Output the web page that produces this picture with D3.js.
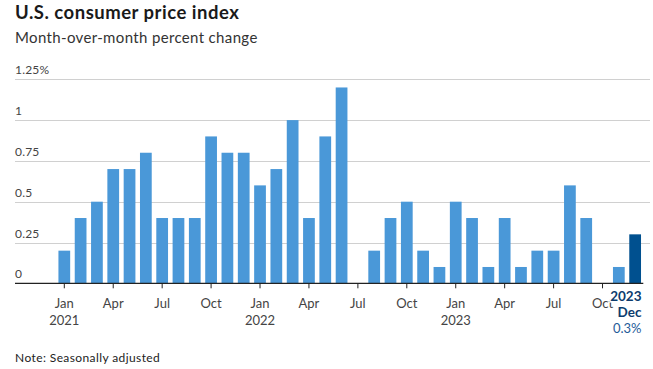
<!DOCTYPE html>
<html>
<head>
<meta charset="utf-8">
<script src="https://cdn.jsdelivr.net/npm/d3@7/dist/d3.min.js"></script>
<style>
  html, body { margin: 0; padding: 0; background: #fff; }
  svg { display: block; font-family: Lato, "Open Sans", sans-serif; }
</style>
</head>
<body>
<svg id="chart" width="653" height="369"></svg>
<script>
const title = "U.S. consumer price index";
const subtitle = "Month-over-month percent change";
const note = "Note: Seasonally adjusted";

const months = [
  "2021-01","2021-02","2021-03","2021-04","2021-05","2021-06","2021-07","2021-08","2021-09","2021-10","2021-11","2021-12",
  "2022-01","2022-02","2022-03","2022-04","2022-05","2022-06","2022-07","2022-08","2022-09","2022-10","2022-11","2022-12",
  "2023-01","2023-02","2023-03","2023-04","2023-05","2023-06","2023-07","2023-08","2023-09","2023-10","2023-11","2023-12"
];
const values = [
  0.2, 0.4, 0.5, 0.7, 0.7, 0.8, 0.4, 0.4, 0.4, 0.9, 0.8, 0.8,
  0.6, 0.7, 1.0, 0.4, 0.9, 1.2, 0.0, 0.2, 0.4, 0.5, 0.2, 0.1,
  0.5, 0.4, 0.1, 0.4, 0.1, 0.2, 0.2, 0.6, 0.4, 0.0, 0.1, 0.3
];
const yTicks = [0, 0.25, 0.5, 0.75, 1, 1.25];
const yTickLabels = ["0", "0.25", "0.5", "0.75", "1", "1.25%"];
const xTickMonths = ["2021-01","2021-04","2021-07","2021-10","2022-01","2022-04","2022-07","2022-10","2023-01","2023-04","2023-07","2023-10"];
const xTickLabels = ["Jan","Apr","Jul","Oct","Jan","Apr","Jul","Oct","Jan","Apr","Jul","Oct"];
const xYearLabels = {"2021-01": "2021", "2022-01": "2022", "2023-01": "2023"};
const highlight = { month: "2023-12", year: "2023", label: "Dec", value: "0.3%" };

const svg = d3.select("#chart");

const x = d3.scaleBand().domain(months).range([56.15, 643.3]).paddingInner(0.28).paddingOuter(0.14);
const y = d3.scaleLinear().domain([0, 1.25]).range([283.3, 79.3]);

// Title & subtitle
svg.append("text").attr("x", 15).attr("y", 18.5)
  .attr("font-size", 18.5).attr("font-weight", 700).attr("letter-spacing", 0.5)
  .attr("fill", "#1a1a1a").text(title);
svg.append("text").attr("x", 15).attr("y", 42.5)
  .attr("font-size", 15).attr("letter-spacing", 0.35).attr("fill", "#333").text(subtitle);

// Gridlines
const grid = svg.append("g");
grid.selectAll("line").data(yTicks.filter(d => d > 0)).join("line")
  .attr("x1", 15).attr("x2", 650)
  .attr("y1", d => Math.round(y(d)) + 0.5).attr("y2", d => Math.round(y(d)) + 0.5)
  .attr("stroke", "#d0d0d0").attr("stroke-width", 1);

// Y labels
svg.append("g").selectAll("text").data(yTicks).join("text")
  .attr("x", 15).attr("y", d => y(d) - 5)
  .attr("font-size", 12).attr("letter-spacing", 0.2).attr("fill", "#444")
  .text((d, i) => yTickLabels[i]);

// Bars
svg.append("g").selectAll("rect").data(months).join("rect")
  .attr("x", d => x(d))
  .attr("width", x.bandwidth())
  .attr("y", (d, i) => y(values[i]))
  .attr("height", (d, i) => y(0) - y(values[i]))
  .attr("fill", d => d === highlight.month ? "#00508f" : "#4a98d8");

// Axis baseline
svg.append("line").attr("x1", 15).attr("x2", 643.3)
  .attr("y1", y(0)).attr("y2", y(0))
  .attr("stroke", "#222").attr("stroke-width", 1.3);

// X ticks
const xt = svg.append("g");
xt.selectAll("line").data(xTickMonths).join("line")
  .attr("x1", d => x(d) + x.bandwidth() / 2).attr("x2", d => x(d) + x.bandwidth() / 2)
  .attr("y1", y(0)).attr("y2", y(0) + 5)
  .attr("stroke", "#222").attr("stroke-width", 1);
xt.selectAll("text.m").data(xTickMonths).join("text").attr("class", "m")
  .attr("x", d => x(d) + x.bandwidth() / 2).attr("y", 307.5)
  .attr("text-anchor", "middle").attr("font-size", 13).attr("fill", "#444")
  .text((d, i) => xTickLabels[i]);
xt.selectAll("text.y").data(Object.keys(xYearLabels)).join("text").attr("class", "y")
  .attr("x", d => x(d) + x.bandwidth() / 2).attr("y", 324.5)
  .attr("text-anchor", "middle").attr("font-size", 13).attr("fill", "#444")
  .text(d => xYearLabels[d]);

// Highlight annotation
const hx = x(highlight.month) + x.bandwidth() + 0.5;
const ann = svg.append("g").attr("text-anchor", "end");
ann.append("text").attr("x", hx).attr("y", 300.5)
  .attr("font-size", 13.5).attr("font-weight", 700).attr("fill", "#0d3c6e")
  .attr("stroke", "#fff").attr("stroke-width", 3).attr("paint-order", "stroke")
  .text(highlight.year);
ann.append("text").attr("x", hx).attr("y", 317)
  .attr("font-size", 13.5).attr("font-weight", 700).attr("fill", "#0d3c6e")
  .text(highlight.label);
ann.append("text").attr("x", hx).attr("y", 333)
  .attr("font-size", 13).attr("fill", "#1f5c99")
  .text(highlight.value);

// Note
svg.append("text").attr("x", 15).attr("y", 362)
  .attr("font-size", 12).attr("letter-spacing", 0.4).attr("fill", "#222").text(note);
</script>
</body>
</html>
